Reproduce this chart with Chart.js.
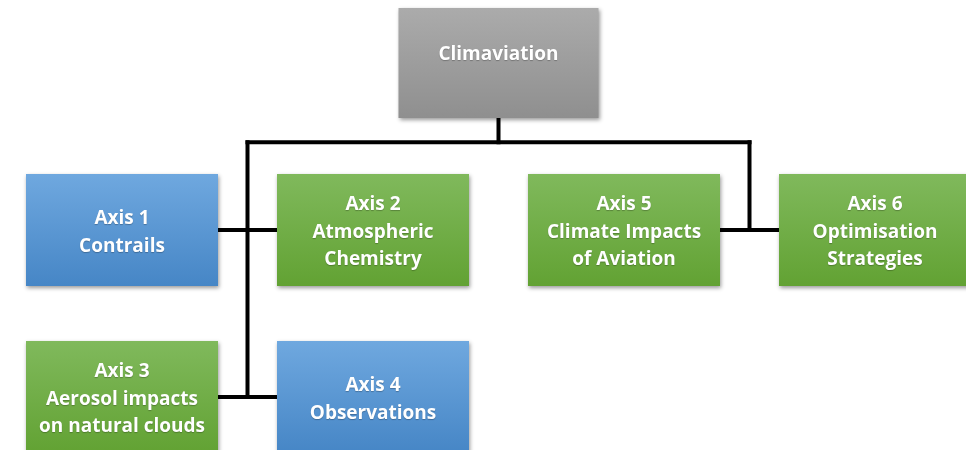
<!DOCTYPE html>
<html>
<head>
<meta charset="utf-8">
<script src="https://cdn.jsdelivr.net/npm/chart.js@4"></script>
<style>
  html, body { margin: 0; padding: 0; background: #fff; }
  #wrap { width: 966px; height: 450px; }
</style>
</head>
<body>
<div id="wrap"><canvas id="org"></canvas></div>
<script>
// Nodes of the chart (column / row in grid units)
const nodeLabels = [
    ['Climaviation'],
    ['Axis 1', 'Contrails'],
    ['Axis 2', 'Atmospheric', 'Chemistry'],
    ['Axis 3', 'Aerosol impacts', 'on natural clouds'],
    ['Axis 4', 'Observations'],
    ['Axis 5', 'Climate Impacts', 'of Aviation'],
    ['Axis 6', 'Optimisation', 'Strategies']
];
const nodeCol = [1.5, 0, 1, 0, 1, 2, 3];
const nodeRow = [0, 1, 1, 2, 2, 1, 1];
const nodeKind = ['root', 'blue', 'green', 'green', 'blue', 'green', 'green'];

// Connector polylines (grid units)
const links = [
    [[1.5, 0], [1.5, 0.475]],
    [[0.5, 0.475], [2.5, 0.475]],
    [[0.5, 0.475], [0.5, 2]],
    [[2.5, 0.475], [2.5, 1]],
    [[0, 1], [1, 1]],
    [[2, 1], [3, 1]],
    [[0, 2], [1, 2]]
];

const palette = {
    root:  ['#ababab', '#8f8f8f'],
    blue:  ['#6fa8df', '#4686c6'],
    green: ['#80b95c', '#62a233']
};

const boxPlugin = {
    id: 'boxes',
    afterDatasetsDraw(chart) {
        const ctx = chart.ctx;
        const xs = chart.scales.x, ys = chart.scales.y;
        nodeLabels.forEach((lines, i) => {
            const isRoot = nodeKind[i] === 'root';
            const cx = xs.getPixelForValue(nodeCol[i]);
            const cy = ys.getPixelForValue(nodeRow[i]);
            const w = isRoot ? 200 : 192;
            const h = isRoot ? 110 : 112;
            const x0 = cx - w / 2, y0 = cy - h / 2;
            const g = ctx.createLinearGradient(0, y0, 0, y0 + h);
            g.addColorStop(0, palette[nodeKind[i]][0]);
            g.addColorStop(1, palette[nodeKind[i]][1]);
            ctx.save();
            ctx.shadowColor = 'rgba(0,0,0,0.4)';
            ctx.shadowBlur = 4;
            ctx.shadowOffsetY = 2;
            ctx.shadowOffsetX = 1;
            ctx.fillStyle = g;
            ctx.fillRect(x0, y0, w, h);
            ctx.restore();

            ctx.save();
            ctx.fillStyle = '#ffffff';
            ctx.font = 'bold 19px "Open Sans", sans-serif';
            ctx.textAlign = 'center';
            ctx.textBaseline = 'middle';
            ctx.shadowColor = 'rgba(0,0,0,0.25)';
            ctx.shadowBlur = 1;
            ctx.shadowOffsetY = 1;
            const lh = 27.5;
            const ty = isRoot ? cy - 8 : cy + 2.5;
            lines.forEach((t, k) => {
                ctx.fillText(t, cx, ty + (k - (lines.length - 1) / 2) * lh);
            });
            ctx.restore();
        });
    }
};

new Chart(document.getElementById('org'), {
    type: 'scatter',
    data: {
        datasets: links.map(seg => ({
            data: seg.map(p => ({ x: p[0], y: p[1] })),
            showLine: true,
            borderColor: '#000',
            borderWidth: 4,
            pointRadius: 0,
            borderCapStyle: 'square'
        }))
    },
    options: {
        responsive: true,
        maintainAspectRatio: false,
        animation: false,
        layout: { padding: 0 },
        scales: {
            x: { type: 'linear', display: false, min: -122 / 251, max: 844 / 251 },
            y: { type: 'linear', display: false, reverse: true, min: -63 / 167, max: 387 / 167 }
        },
        plugins: {
            legend: { display: false },
            tooltip: { enabled: false }
        }
    },
    plugins: [boxPlugin]
});
</script>
</body>
</html>
